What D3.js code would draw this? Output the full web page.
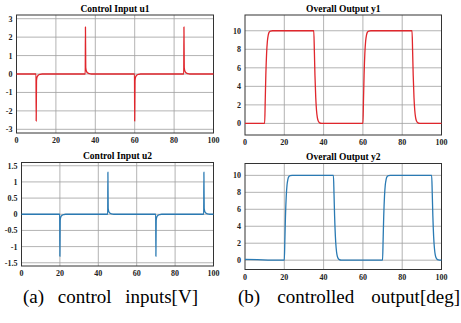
<!DOCTYPE html>
<html>
<head>
<meta charset="utf-8">
<script src="https://cdn.jsdelivr.net/npm/d3@7"></script>
<style>
  body { margin: 0; background: #fff; }
  svg { display: block; }
  text { font-family: "Liberation Serif", "Times New Roman", "DejaVu Serif", serif; }
  .title { font-weight: bold; font-size: 9.5px; }
  .tick-label { font-weight: bold; font-size: 8px; fill: #222; }
  .caption { font-size: 19px; fill: #000; }
</style>
</head>
<body>
<div id="chart"></div>
<script>
// ---- data ----
const xTicks = [0, 20, 40, 60, 80, 100];

const u1Time  = [0, 9.9, 10, 10.15, 10.5, 11, 12, 13, 34.9, 35, 35.15, 35.5, 36, 37, 38,
                 59.9, 60, 60.15, 60.5, 61, 62, 63, 84.9, 85, 85.15, 85.5, 86, 87, 88, 100];
const u1Value = [0, 0, -2.55, -0.35, -0.15, -0.07, -0.02, 0, 0, 2.55, 0.35, 0.15, 0.07, 0.02, 0,
                 0, -2.55, -0.35, -0.15, -0.07, -0.02, 0, 0, 2.55, 0.35, 0.15, 0.07, 0.02, 0, 0];
const u1Ticks = [-3, -2, -1, 0, 1, 2, 3];

const u2Time  = [0, 19.9, 20, 20.15, 20.5, 21, 22, 23, 44.9, 45, 45.15, 45.5, 46, 47, 48,
                 69.9, 70, 70.15, 70.5, 71, 72, 73, 94.9, 95, 95.15, 95.5, 96, 97, 98, 100];
const u2Value = [0, 0, -1.3, -0.18, -0.08, -0.04, -0.01, 0, 0, 1.3, 0.18, 0.08, 0.04, 0.01, 0,
                 0, -1.3, -0.18, -0.08, -0.04, -0.01, 0, 0, 1.3, 0.18, 0.08, 0.04, 0.01, 0, 0];
const u2Ticks = [-1.5, -1, -0.5, 0, 0.5, 1, 1.5];

const y1Time  = [0, 10, 10.3, 10.6, 11, 11.4, 11.8, 12.3, 13, 14, 35, 35.3, 35.6, 36, 36.4, 36.8, 37.3, 38, 39,
                 60, 60.3, 60.6, 61, 61.4, 61.8, 62.3, 63, 64, 85, 85.3, 85.6, 86, 86.4, 86.8, 87.3, 88, 89, 100];
const y1Value = [0, 0, 2.5, 5.2, 7.6, 8.9, 9.5, 9.85, 9.97, 10, 10, 7.8, 5.2, 2.8, 1.4, 0.65, 0.25, 0.06, 0,
                 0, 2.5, 5.2, 7.6, 8.9, 9.5, 9.85, 9.97, 10, 10, 7.8, 5.2, 2.8, 1.4, 0.65, 0.25, 0.06, 0, 0];
const y2Time  = [0, 20, 20.3, 20.6, 21, 21.4, 21.8, 22.3, 23, 24, 45, 45.3, 45.6, 46, 46.4, 46.8, 47.3, 48, 49,
                 70, 70.3, 70.6, 71, 71.4, 71.8, 72.3, 73, 74, 95, 95.3, 95.6, 96, 96.4, 96.8, 97.3, 98, 99, 100];
const y2Value = [0.1, 0, 2.5, 5.2, 7.6, 8.9, 9.5, 9.85, 9.97, 10, 10, 7.8, 5.2, 2.8, 1.4, 0.65, 0.25, 0.06, 0,
                 0, 2.5, 5.2, 7.6, 8.9, 9.5, 9.85, 9.97, 10, 10, 7.8, 5.2, 2.8, 1.4, 0.65, 0.25, 0.06, 0.01, 0];
const yTicks = [0, 2, 4, 6, 8, 10];

const titles = ["Control Input u1", "Control Input u2", "Overall Output y1", "Overall Output y2"];
const captions = ["(a) control inputs[V]", "(b) controlled output[deg]"];

const RED = "#e0262c";
const BLUE = "#2a7ab3";

const svg = d3.select("#chart").append("svg")
  .attr("width", 461)
  .attr("height", 323);

// Draw one panel: grid, frame, tick labels, title, line
function drawPanel(p) {
  const x = d3.scaleLinear().domain([0, 100]).range([p.left, p.right]);
  const y = d3.scaleLinear().domain(p.yDomain).range([p.bottom, p.top]);
  const g = svg.append("g");

  // grid
  g.append("g").selectAll("line").data(xTicks.slice(1, -1)).join("line")
    .attr("x1", d => x(d)).attr("x2", d => x(d))
    .attr("y1", p.top).attr("y2", p.bottom)
    .attr("stroke", "#a0a0a0").attr("stroke-width", 0.8);
  g.append("g").selectAll("line").data(p.yTicks).join("line")
    .attr("x1", p.left).attr("x2", p.right)
    .attr("y1", d => y(d)).attr("y2", d => y(d))
    .attr("stroke", "#a0a0a0").attr("stroke-width", 0.8);

  // frame
  g.append("rect")
    .attr("x", p.left).attr("y", p.top)
    .attr("width", p.right - p.left).attr("height", p.bottom - p.top)
    .attr("fill", "none").attr("stroke", "#333").attr("stroke-width", 1);

  // tick labels
  g.append("g").selectAll("text").data(xTicks).join("text")
    .attr("class", "tick-label")
    .attr("x", d => x(d)).attr("y", p.bottom + 10)
    .attr("text-anchor", "middle")
    .text(d => d);
  g.append("g").selectAll("text").data(p.yTicks).join("text")
    .attr("class", "tick-label")
    .attr("x", p.left - 4).attr("y", d => y(d) + 3)
    .attr("text-anchor", "end")
    .text(d => String(d));

  // title
  g.append("text")
    .attr("class", "title")
    .attr("x", (p.left + p.right) / 2).attr("y", p.top - 3.5)
    .attr("text-anchor", "middle")
    .text(p.title);

  // data line
  const pts = p.time.map((t, i) => [t, p.values[i]]);
  g.append("path")
    .datum(pts)
    .attr("fill", "none")
    .attr("stroke", p.color)
    .attr("stroke-width", 1.3)
    .attr("stroke-linejoin", "round")
    .attr("d", d3.line().x(d => x(d[0])).y(d => y(d[1])).curve(d3.curveMonotoneX));
}

drawPanel({ left: 16.5, right: 213.5, top: 15, bottom: 133, yDomain: [-3.2, 3.2],
  yTicks: u1Ticks, title: titles[0], time: u1Time, values: u1Value, color: RED });
drawPanel({ left: 21.5, right: 213.5, top: 162.5, bottom: 266, yDomain: [-1.6, 1.6],
  yTicks: u2Ticks, title: titles[1], time: u2Time, values: u2Value, color: BLUE });
drawPanel({ left: 245, right: 441.5, top: 15, bottom: 135, yDomain: [-1.25, 11.7],
  yTicks: yTicks, title: titles[2], time: y1Time, values: y1Value, color: RED });
drawPanel({ left: 245, right: 441.5, top: 163.5, bottom: 269.5, yDomain: [-1.1, 11.4],
  yTicks: yTicks, title: titles[3], time: y2Time, values: y2Value, color: BLUE });

// captions: widen the word gaps so each caption spans the same width as in the figure
const captionPos = [{ x: 23, w: 175 }, { x: 238, w: 222 }];
captions.forEach((c, i) => {
  const t = svg.append("text").attr("class", "caption")
    .attr("x", captionPos[i].x).attr("y", 303)
    .text(c);
  const gaps = c.split(" ").length - 1;
  const extra = (captionPos[i].w - t.node().getComputedTextLength()) / gaps;
  t.style("word-spacing", Math.max(0, extra) + "px");
});
</script>
</body>
</html>
